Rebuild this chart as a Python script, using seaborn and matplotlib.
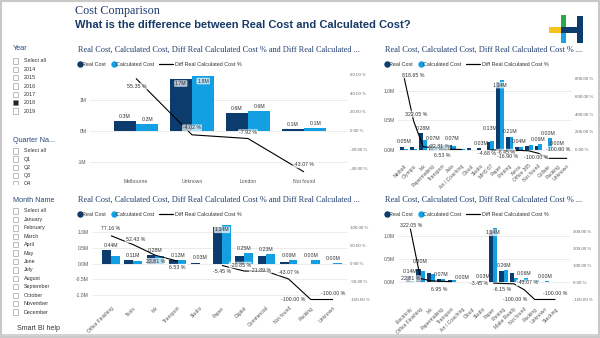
import numpy as np
import pandas as pd
import matplotlib
matplotlib.use("Agg")
import matplotlib.pyplot as plt
import seaborn as sns
from matplotlib.patches import Rectangle
from matplotlib.lines import Line2D
from matplotlib.transforms import Bbox

# ---------------- data ----------------
cats1 = ["Melbourne", "Unknown", "London", "Not found"]
real1 = [0.32, 1.68, 0.58, 0.06]
calc1 = [0.21, 1.76, 0.63, 0.10]
pct1 = [55.35, -4.02, -7.92, -43.07]

cats2 = ["Netball", "Olympic", "Ink", "Papermaking", "Transport", "Asia", "Art / Coaching",
         "Cloud", "Studio", "MHS 67", "Paper", "Printing", "Xerox", "Office 365",
         "Not found", "Collate", "Packing", "Unknown"]
real2 = [0.05, 0.04, 0.28, 0.07, 0.07, 0.07, 0.01, 0.03, 0.03, 0.13, 1.14, 0.21,
         0.04, 0.06, 0.06, 0.00, 0.00, 0.00]
calc2 = [0.01, 0.01, 0.16, 0.06, 0.07, 0.06, 0.01, 0.00, 0.00, 0.14, 1.17, 0.22,
         0.05, 0.07, 0.10, 0.20, 0.03, 0.00]
pct2 = [818.65, 322.05, 30.0, 22.81, 6.53, 2.0, 1.0, np.nan, np.nan, -4.68, -6.45,
        -16.90, -10.0, -15.0, -43.07, -100.0, -100.0, -100.0]

cats3 = ["Office Finishing", "Tools", "Ink", "Transport", "Studio", "Paper", "Digital",
         "Commercial", "Not found", "Packing", "Unknown"]
real3 = [0.44, 0.11, 0.28, 0.12, 0.03, 1.14, 0.25, 0.23, 0.06, 0.00, 0.00]
calc3 = [0.25, 0.07, 0.23, 0.11, 0.00, 1.21, 0.32, 0.29, 0.10, 0.10, 0.02]
pct3 = [77.16, 52.43, 22.81, 6.53, np.nan, -5.45, -20.85, -21.89, -43.07, -100.00, -100.00]

cats4 = ["Electricity", "Office Finishing", "Ink", "Papermaking", "Transport",
         "Art / Coaching", "Cloud", "Studio", "Paper", "Printing", "Make Ready",
         "Not found", "Packing", "Unknown", "Stacking"]
real4 = [0.14, 0.30, 0.20, 0.07, 0.06, 0.00, 0.00, 0.03, 1.14, 0.26, 0.20, 0.06, 0.00, 0.00, 0.00]
calc4 = [0.03, 0.24, 0.18, 0.065, 0.055, 0.01, 0.00, 0.00, 1.18, 0.28, 0.10, 0.10, 0.06, 0.03, 0.01]
pct4 = [322.05, 22.81, 10.0, 6.95, 5.0, np.nan, np.nan, np.nan, -3.45, -6.15, -8.0,
        -43.07, -100.0, -100.0, -100.0]

years = ["Select all", "2014", "2015", "2016", "2017", "2018", "2019"]
quarters = ["Select all", "Q1", "Q2", "Q3", "Q4"]
months = ["Select all", "January", "February", "March", "April", "May", "June", "July",
          "August", "September", "October", "November", "December"]

series_names = ["Real Cost", "Calculated Cost"]
line_name = "Diff Real Calculated Cost %"

# ---------------- style ----------------
sns.set_theme(style="white")
plt.rcParams['font.family'] = ['Liberation Sans', 'DejaVu Sans']

NAVY = "#0C3B6E"
BLUE = "#12A0E3"
GRID = "#e9e9e9"
TITLE_C = "#1F3D6D"
W, H = 600, 338
fig = plt.figure(figsize=(6, 3.38), dpi=100)
fig.patch.set_facecolor("white")


def fx(x):
    return x / W


def fy(y):
    return 1 - y / H


def rect_px(x, y, w, h, **kw):
    r = Rectangle((fx(x), fy(y + h)), w / W, h / H, transform=fig.transFigure, **kw)
    fig.add_artist(r)
    return r


def ftext(x, y, s, **kw):
    return fig.text(fx(x), fy(y), s, **kw)


# ---------------- frame, titles, logo ----------------
rect_px(0, 334, 600, 4, facecolor="#d3d3d3", edgecolor="none")
fig.add_artist(Rectangle((0.0015, 0.002), 0.997, 0.996, transform=fig.transFigure,
                         fill=False, edgecolor="#c9c9c9", lw=1.5))

ftext(75, 11, "Cost Comparison", family="Liberation Serif", fontsize=8.7,
      color=TITLE_C, va="center")
ftext(75, 25, "What is the difference between Real Cost and Calculated Cost?",
      fontsize=8.0, weight="bold", color="#173A66", va="center")

# logo
rect_px(549, 27, 13, 5.5, facecolor="#F6C21B", edgecolor="none")
rect_px(561, 15, 5, 13, facecolor="#2BA84A", edgecolor="none")
rect_px(561, 32, 5, 11, facecolor="#1BA3E0", edgecolor="none")
rect_px(561, 27, 22, 5.5, facecolor=NAVY, edgecolor="none")
rect_px(577, 16, 6, 27, facecolor=NAVY, edgecolor="none")

# ---------------- sidebar ----------------
clip_q = Bbox([[0, H - 184.5], [80, H]])


def slicer(header, hy, items, y0, step, selected=None, clip=None):
    ftext(13, hy, header, fontsize=5.2, color="#2A4A78", va="center")
    for k, it in enumerate(items):
        y = y0 + k * step
        r = rect_px(13, y - 2.7, 5.4, 5.4,
                    facecolor="#222222" if it == selected else "white",
                    edgecolor="#8a8a8a", lw=0.4)
        t = ftext(24, y, it, fontsize=3.9, color="#333333", va="center")
        if clip is not None:
            r.set_clip_box(clip)
            r.set_clip_on(True)
            t.set_clip_box(clip)
            t.set_clip_on(True)


slicer("Year", 49, years, 61, 8.35, selected="2018")
slicer("Quarter Na...", 141, quarters, 151, 8.1, clip=clip_q)
slicer("Month Name", 201, months, 211, 8.42)
ftext(17, 329, "Smart BI help", fontsize=5, color="#333333", va="center")


# ---------------- panels ----------------
def legend_px(x, y):
    fig.add_artist(Line2D([fx(x + 1.8)], [fy(y)], marker="o", markersize=3.6, color=NAVY,
                          transform=fig.transFigure, linestyle="none"))
    ftext(x + 4, y, series_names[0], fontsize=3.9, color="#333", va="center")
    fig.add_artist(Line2D([fx(x + 35.8)], [fy(y)], marker="o", markersize=3.6, color=BLUE,
                          transform=fig.transFigure, linestyle="none"))
    ftext(x + 38, y, series_names[1], fontsize=3.9, color="#333", va="center")
    fig.add_artist(Line2D([fx(x + 81), fx(x + 95)], [fy(y), fy(y)], color="black", lw=0.9,
                          transform=fig.transFigure))
    ftext(x + 97, y, line_name, fontsize=3.9, color="#333", va="center")


def panel(box, cats, real, calc, pct, lims, ratio, lticks, lfmt, rticks, rfmt,
          xlim, rot, bar_idx, both, pct_idx, pct_off, title, tpos, bar_dy=None):
    bar_dy = bar_dy or {}
    x0, y0, x1, y1 = box
    ax = fig.add_axes([fx(x0), fy(y1), (x1 - x0) / W, (y1 - y0) / H])
    n = len(cats)
    df = pd.DataFrame({"Category": list(cats) * 2,
                       "Series": [series_names[0]] * n + [series_names[1]] * n,
                       "Value": list(real) + list(calc)})
    sns.barplot(data=df, x="Category", y="Value", hue="Series", order=cats,
                hue_order=series_names, palette=[NAVY, BLUE], saturation=1,
                width=0.8, linewidth=0, legend=False, ax=ax, errorbar=None)
    ax.set_xlim(*xlim)
    ax.set_ylim(*lims)
    ax.set_yticks(lticks)
    ax.set_yticklabels([lfmt(v) for v in lticks])
    ax.yaxis.grid(True, color=GRID, lw=0.6)
    ax.xaxis.grid(False)
    ax.set_axisbelow(True)
    for s in ax.spines.values():
        s.set_visible(False)
    ax.tick_params(axis="both", length=0, pad=2.5, labelsize=3.6, labelcolor="#555555")
    ax.set_xlabel("")
    ax.set_ylabel("")
    if rot:
        for lab in ax.get_xticklabels():
            lab.set_rotation(45)
            lab.set_ha("right")
            lab.set_rotation_mode("anchor")
    ax.set_facecolor("none")

    ax2 = ax.twinx()
    ax2.plot(np.arange(n), pct, color="black", lw=0.8, solid_capstyle="butt")
    ax2.set_ylim(lims[0] * ratio, lims[1] * ratio)
    ax2.set_yticks(rticks)
    ax2.set_yticklabels([rfmt(v) for v in rticks])
    ax2.grid(False)
    for s in ax2.spines.values():
        s.set_visible(False)
    ax2.tick_params(axis="y", length=0, pad=2, labelsize=3.2, labelcolor="#666666")

    top = lims[1]

    def blabel(x, v, txt, extra=0):
        if v > 0.72 * top:
            ax.annotate(txt, xy=(x, v), xytext=(0, -1.5), textcoords="offset points",
                        ha="center", va="top", fontsize=3.8, color="#333",
                        bbox=dict(boxstyle="round,pad=0.15", fc="white", ec="none", alpha=0.7))
        else:
            ax.annotate(txt, xy=(x, v), xytext=(0, 1.5 + extra * 0.72), textcoords="offset points",
                        ha="center", va="bottom", fontsize=3.8, color="#333")

    fmt = (lambda v: f"{v:.1f}M") if both else (lambda v: f"{v:.2f}M")
    for i in bar_idx:
        if both:
            blabel(i - 0.2, real[i], fmt(real[i]))
            blabel(i + 0.2, calc[i], fmt(calc[i]))
        else:
            blabel(i, max(real[i], calc[i]), fmt(real[i]), bar_dy.get(i, 0))

    for i, (dx, dy) in zip(pct_idx, pct_off):
        ax2.annotate(f"{pct[i]:.2f} %", xy=(i, pct[i]), xytext=(dx * 0.72, dy * 0.72),
                     textcoords="offset points", ha="center", va="center",
                     fontsize=3.8, color="#333",
                     bbox=dict(boxstyle="round,pad=0.15", fc="white", ec="none", alpha=0.7))

    ftext(tpos[0], tpos[1], title, family="Liberation Serif", fontsize=5.95,
          color=TITLE_C, va="center")
    legend_px(tpos[0], tpos[1] + 14)
    return ax, ax2


title_long = "Real Cost, Calculated Cost, Diff Real Calculated Cost % and Diff Real Calculated ..."
title_short = "Real Cost, Calculated Cost, Diff Real Calculated Cost % ..."

# panel 1 (top-left)
panel((90, 70, 347, 176), cats1, real1, calc1, pct1,
      lims=(-1.452, 1.968), ratio=32.63, lticks=[-1, 0, 1], lfmt=lambda v: f"{v:.0f}M",
      rticks=[-40, -20, 0, 20, 40, 60], rfmt=lambda v: f"{v:.2f} %",
      xlim=(-0.821, 3.768), rot=False, bar_idx=range(4), both=True,
      pct_idx=[0, 1, 2, 3], pct_off=[(1, -8), (0, 7), (0, 6), (0, 7)],
      title=title_long, tpos=(78, 50))

# panel 2 (top-right)
panel((398, 72, 572, 160), cats2, real2, calc2, pct2,
      lims=(-0.178, 1.314), ratio=666.7, lticks=[0, 0.5, 1.0], lfmt=lambda v: f"{v:.1f}M",
      rticks=[0, 200, 400, 600, 800], rfmt=lambda v: f"{v:.2f} %",
      xlim=(-0.625, 17.5), rot=True,
      bar_idx=[0, 2, 3, 5, 8, 9, 10, 11, 12, 14, 15, 16], both=False,
      pct_idx=[0, 1, 3, 4, 9, 10, 11, 15, 17],
      pct_off=[(9, 2), (3, 7), (7, 1), (0, -7), (-3, -4), (6, -2), (-2, -6), (-12, 1), (-9, 9)],
      title=title_short, tpos=(385, 50), bar_dy={9: 8, 3: 2, 5: 2})

# panel 3 (bottom-left)
panel((92, 222, 347, 302), cats3, real3, calc3, pct3,
      lims=(-1.218, 1.313), ratio=87.78, lticks=[-1.0, -0.5, 0, 0.5, 1.0],
      lfmt=lambda v: f"{v:.1f}M",
      rticks=[-100, -50, 0, 50, 100], rfmt=lambda v: f"{v:.2f} %",
      xlim=(-0.856, 10.63), rot=True, bar_idx=range(11), both=False,
      pct_idx=[0, 1, 2, 3, 5, 6, 7, 8, 9, 10],
      pct_off=[(0, 7), (2, 5), (0, -6), (0, -6), (0, -6), (-4, 6), (-6, 1), (0, 7),
               (-18, 0), (0, 6)],
      title=title_long, tpos=(78, 200))

# panel 4 (bottom-right)
panel((398, 222, 570, 303), cats4, real4, calc4, pct4,
      lims=(-0.446, 1.315), ratio=270.6, lticks=[0, 0.5, 1.0], lfmt=lambda v: f"{v:.1f}M",
      rticks=[-100, 0, 100, 200, 300], rfmt=lambda v: f"{v:.2f} %",
      xlim=(-1.17, 15.4), rot=True, bar_idx=[0, 1, 3, 5, 7, 8, 9, 11, 13], both=False,
      pct_idx=[0, 1, 3, 8, 9, 11, 12, 14],
      pct_off=[(1, 2), (-10, 0), (-2, -8), (-14, 0), (-1, -6), (3, 7), (-20, 0), (0, 6)],
      title=title_short, tpos=(385, 200), bar_dy={1: 3})

fig.savefig("out.png", dpi=100, facecolor="white")
